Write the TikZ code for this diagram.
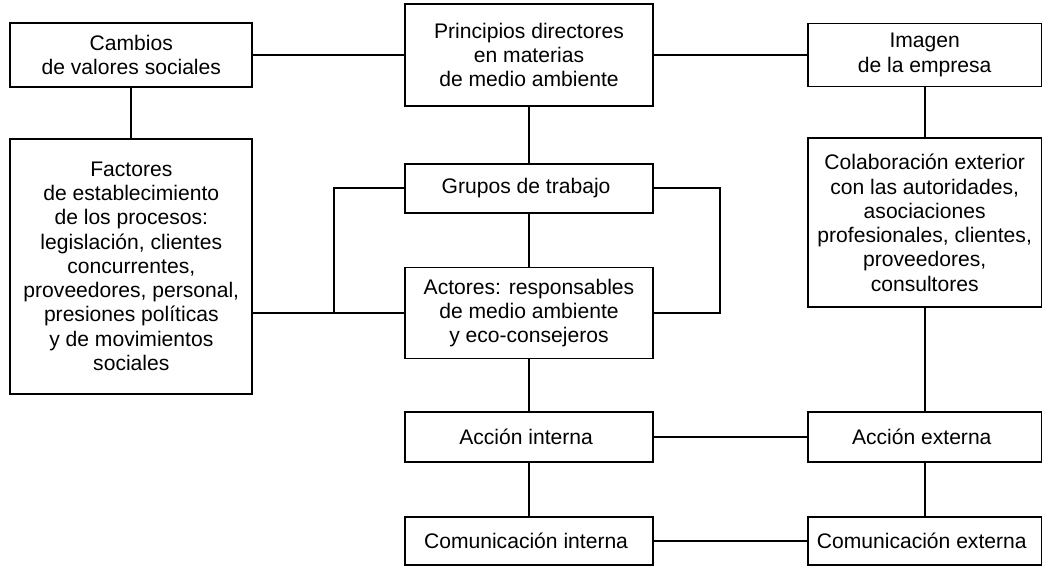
\documentclass[tikz,border=0pt]{standalone}
\usepackage{fontspec}
\setmainfont{Liberation Sans}
\usetikzlibrary{positioning}

\begin{document}
\begin{tikzpicture}[
        x=0.02cm,y=-0.02cm,
        caja/.style={
          draw,line width=1pt,
          align=center,
          inner sep=2pt,
          font=\fontsize{12}{13.8}\selectfont
        },
        izq/.style={minimum width=4.84cm},
        centro/.style={minimum width=4.96cm},
        der/.style={minimum width=4.68cm},
        linea/.style={line width=1pt},
      ]
      \useasboundingbox (0,0) rectangle (1042,566);
      \node[caja,centro,minimum height=2.04cm] (principios) at (529,55) {
        Principios directores\\en materias\\de medio ambiente
      };
      \node[caja,izq,minimum height=1.28cm,left=3.02cm of principios] (cambios) {
        Cambios\\de valores sociales
      };
      \node[caja,der,minimum height=1.26cm,right=3.06cm of principios] (imagen) {
        Imagen\\de la empresa
      };
      \node[caja,izq,minimum height=5.1cm,below=1cm of cambios] (factores) {
        Factores\\de establecimiento\\de los procesos:\\legislación, clientes\\
        concurrentes,\\proveedores, personal,\\presiones políticas\\
        y de movimientos\\sociales
      };
      \node[caja,centro,minimum height=0.98cm,below=1.12cm of principios] (grupos) {
        Grupos de trabajo
      };
      \node[caja,der,minimum height=3.38cm,below=1cm of imagen] (colaboracion) {
        Colaboración exterior\\con las autoridades,\\asociaciones\\
        profesionales, clientes,\\proveedores,\\consultores
      };
      \node[caja,centro,minimum height=1.82cm,below=1.06cm of grupos] (actores) {
        Actores: responsables\\de medio ambiente\\y eco-consejeros
      };
      \node[caja,centro,minimum height=1cm,below=1.04cm of actores] (accint) {
        Acción interna
      };
      \node[caja,der,minimum height=1cm,right=3.06cm of accint] (accext) {
        Acción externa
      };
      \node[caja,centro,minimum height=0.96cm,below=1.06cm of accint] (comint) {
        Comunicación interna
      };
      \node[caja,der,minimum height=0.96cm,right=3.06cm of comint] (comext) {
        Comunicación externa
      };
      \coordinate[left=1.4cm of actores.west] (codoizq);
      \coordinate[right=1.32cm of actores.east] (cododer);

      \draw[linea]
        (cambios) edge (principios)
        (principios) edge (imagen)
        (cambios) edge (factores)
        (principios) edge (grupos)
        (grupos) edge (actores)
        (actores) edge (accint)
        (accint) edge (comint)
        (imagen) edge (colaboracion)
        (colaboracion) edge (accext)
        (accext) edge (comext)
        (accint) edge (accext)
        (comint) edge (comext)
        (factores.east |- actores.west) edge (codoizq);
      \draw[linea] (grupos.west) -| (codoizq) -- (actores.west);
      \draw[linea] (grupos.east) -| (cododer) -- (actores.east);
    \end{tikzpicture}
\end{document}
